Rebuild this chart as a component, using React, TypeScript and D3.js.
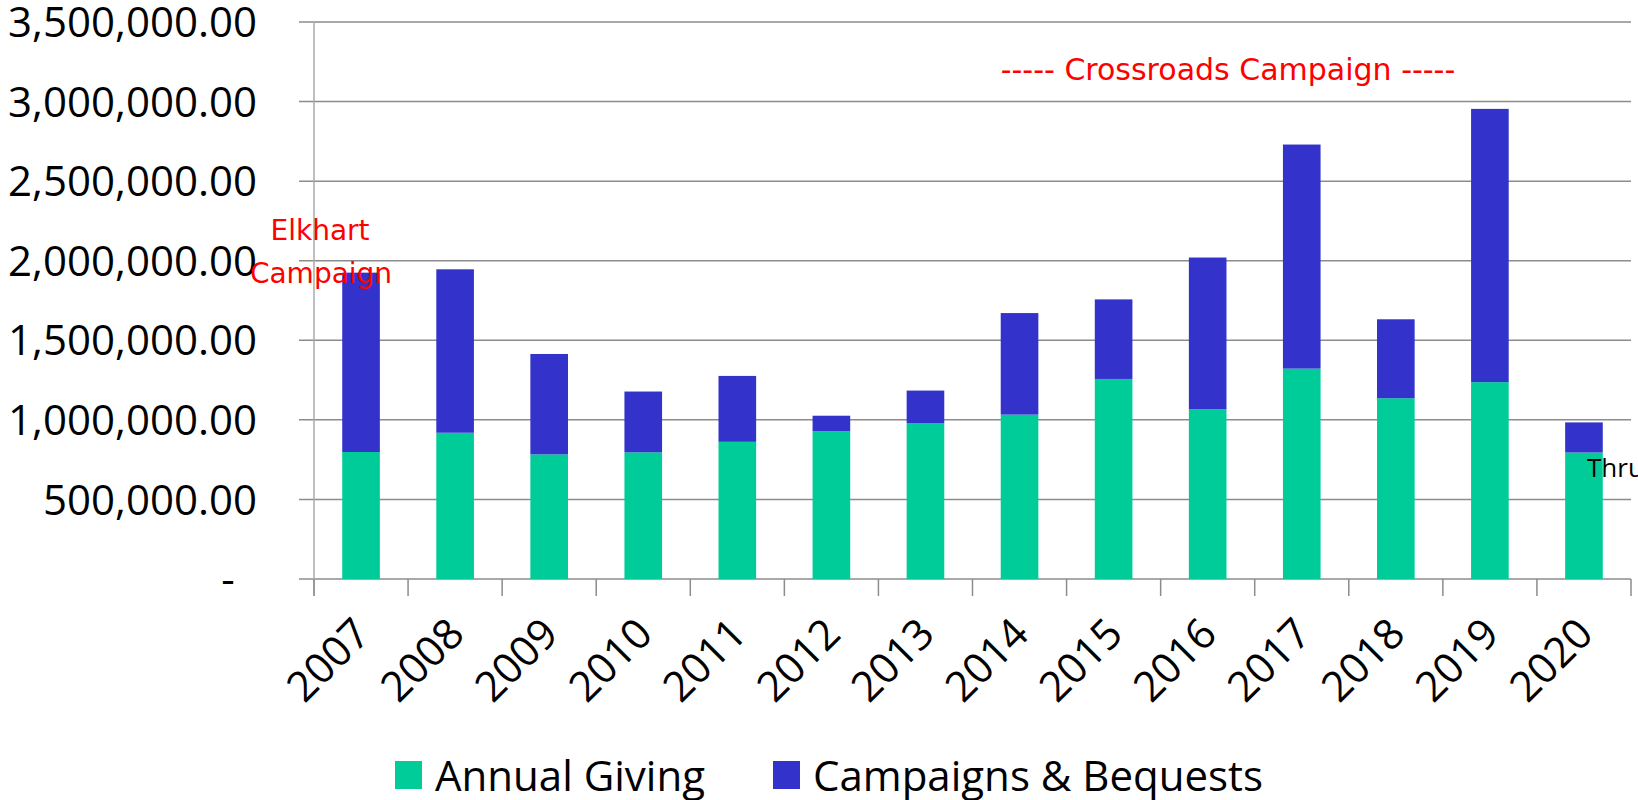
import React from 'react';
import * as d3 from 'd3';

// fiscal years and giving amounts
const years = ['2007', '2008', '2009', '2010', '2011', '2012', '2013', '2014', '2015', '2016', '2017', '2018', '2019', '2020'];
const annualGiving = [798000, 919000, 783000, 796000, 862000, 928000, 980000, 1033000, 1257000, 1066000, 1322000, 1136000, 1237000, 795000];
const campaignsBequests = [1127000, 1027000, 631000, 382000, 414000, 98000, 204000, 638000, 500000, 954000, 1408000, 496000, 1717000, 189000];
const yTicks = [0, 500000, 1000000, 1500000, 2000000, 2500000, 3000000, 3500000];

const GREEN = '#00CC99';
const BLUE = '#3333CC';

const W = 1638;
const H = 800;
const left = 314;
const right = 1631;
const top = 22;
const bottom = 579;

const App: React.FC = () => {
  const x = d3.scaleBand<string>().domain(years).range([left, right]).paddingInner(0.6).paddingOuter(0.3);
  const band = d3.scaleBand<string>().domain(years).range([left, right]);
  const y = d3.scaleLinear().domain([0, 3500000]).range([bottom, top]);
  const fmt = d3.format(',.2f');

  const rows = years.map((yr, i) => ({ yr, a: annualGiving[i], c: campaignsBequests[i] }));
  const stack = d3.stack<any>().keys(['a', 'c'])(rows);
  const colors = [GREEN, BLUE];

  const boundaries = years.map(yr => band(yr) as number).concat([right]);

  return (
    <div style={{ position: 'fixed', left: 0, top: 0 }}>
      <svg width={W} height={H} style={{ display: 'block', background: '#fff' }}>
        {/* gridlines */}
        {yTicks.map(t => (
          <line key={t} x1={left - 15} x2={right} y1={y(t)} y2={y(t)} stroke="#8c8c8c" strokeWidth={1.5} />
        ))}
        {/* y axis */}
        <line x1={left} x2={left} y1={top} y2={bottom + 17} stroke="#aaaaaa" strokeWidth={1.5} />
        {/* x ticks */}
        {boundaries.map((bx, i) => (
          <line key={i} x1={bx} x2={bx} y1={bottom} y2={bottom + 17} stroke="#8c8c8c" strokeWidth={1.5} />
        ))}
        {/* y labels */}
        <g style={{ fontFamily: '"Open Sans", sans-serif', fontSize: 42 }} fill="#000">
          {yTicks.map(t => (
            t === 0 ? (
              <text key={t} x={228} y={y(t)} dy="0.36em" textAnchor="middle">-</text>
            ) : (
              <text key={t} x={257} y={y(t)} dy="0.36em" textAnchor="end">{fmt(t)}</text>
            )
          ))}
        </g>
        {/* bars */}
        {stack.map((s, si) => (
          <g key={si} fill={colors[si]}>
            {s.map((d, i) => (
              <rect key={i} x={x(years[i])} width={x.bandwidth()} y={y(d[1])} height={y(d[0]) - y(d[1])} />
            ))}
          </g>
        ))}
        {/* x labels */}
        <g style={{ fontFamily: '"Open Sans", sans-serif', fontSize: 42 }} fill="#000">
          {years.map(yr => {
            const cx = (x(yr) as number) + x.bandwidth() / 2 - 10;
            return (
              <text key={yr} transform={`translate(${cx},${bottom + 36}) rotate(-45)`} textAnchor="end" dy="0.72em">{yr}</text>
            );
          })}
        </g>
        {/* annotations */}
        <g style={{ fontFamily: '"DejaVu Sans", sans-serif' }} fill="#ff0000" textAnchor="middle">
          <text x={320} y={240} fontSize={28}>Elkhart</text>
          <text x={321} y={283} fontSize={28}>Campaign</text>
          <text x={1228} y={80} fontSize={30}>----- Crossroads Campaign -----</text>
        </g>
        <text x={1587} y={477} style={{ fontFamily: '"Open Sans", sans-serif', fontSize: 26 }} fill="#000">Thru</text>
        {/* legend */}
        <g style={{ fontFamily: '"Open Sans", sans-serif', fontSize: 42 }} fill="#000">
          <rect x={395} y={761} width={27} height={28} fill={GREEN} />
          <text x={435} y={791}>Annual Giving</text>
          <rect x={773} y={761} width={27} height={28} fill={BLUE} />
          <text x={813} y={791}>Campaigns &amp; Bequests</text>
        </g>
      </svg>
    </div>
  );
};

export default App;
